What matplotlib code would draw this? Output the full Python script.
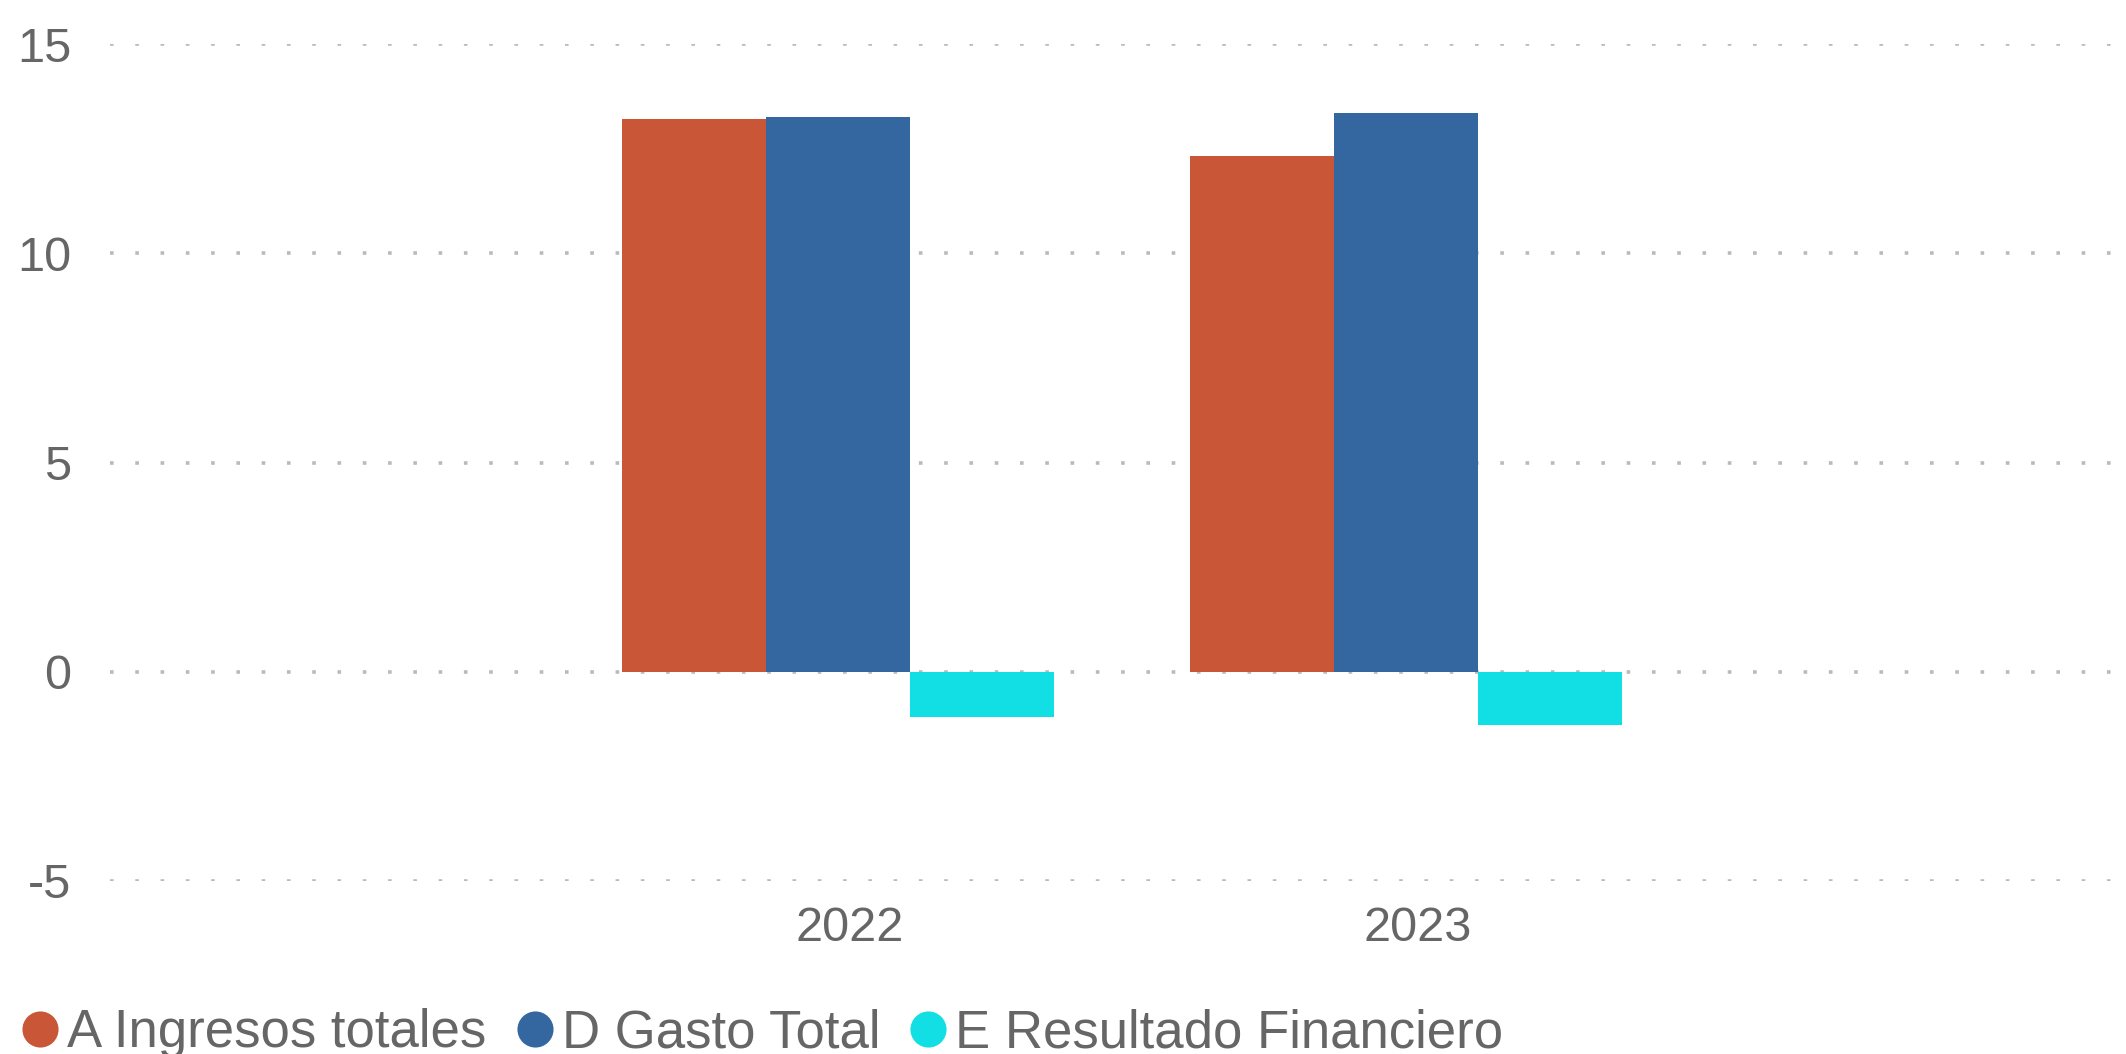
import matplotlib
matplotlib.use('Agg')
import matplotlib.pyplot as plt
import numpy as np
from matplotlib.lines import Line2D

plt.rcParams['font.family'] = ['Liberation Sans', 'DejaVu Sans']
plt.rcParams['axes.unicode_minus'] = False

years = ['2022', '2023']
ingresos = [13.21, 12.33]
gasto = [13.26, 13.36]
resultado = [-1.08, -1.27]

series_names = ['A Ingresos totales', 'D Gasto Total', 'E Resultado Financiero']
colors = ['#C85637', '#3467A0', '#11DFE3']
text_color = '#666666'

fig = plt.figure(figsize=(21.26, 10.54), dpi=100)
ax = fig.add_axes([110 / 2126, 1 - 881 / 1054, 2010 / 2126, (881 - 44.3) / 1054])

x = np.arange(len(years))
w = 0.2535
for i, (vals, c) in enumerate(zip([ingresos, gasto, resultado], colors)):
    ax.bar(x + (i - 1) * w, vals, width=w, color=c, zorder=2, linewidth=0)

ax.set_ylim(-5, 15)
ax.set_yticks([-5, 0, 5, 10, 15])
ax.set_xlim(-1.282, 2.257)
ax.set_xticks(x + 0.02)
ax.set_xticklabels(years)

ax.grid(axis='y', color='#bababa', linewidth=2.6, linestyle=(0, (1, 6)), zorder=1)
ax.grid(axis='x', visible=False)
for s in ax.spines.values():
    s.set_visible(False)
ax.tick_params(axis='y', length=0, pad=28, labelsize=35, labelcolor=text_color)
ax.tick_params(axis='x', length=0, pad=18, labelsize=35, labelcolor=text_color)

handles = [Line2D([], [], linestyle='none', marker='o', markersize=26,
                  markerfacecolor=c, markeredgewidth=0) for c in colors]
fig.legend(handles, series_names, loc='center left', bbox_to_anchor=(22 / 2126, 1 - 1033 / 1054),
           ncol=3, frameon=False, fontsize=38, labelcolor=text_color,
           handlelength=0.7, handletextpad=0.16, columnspacing=0.56,
           borderpad=0, borderaxespad=0)

fig.savefig('out.png', dpi=100)
